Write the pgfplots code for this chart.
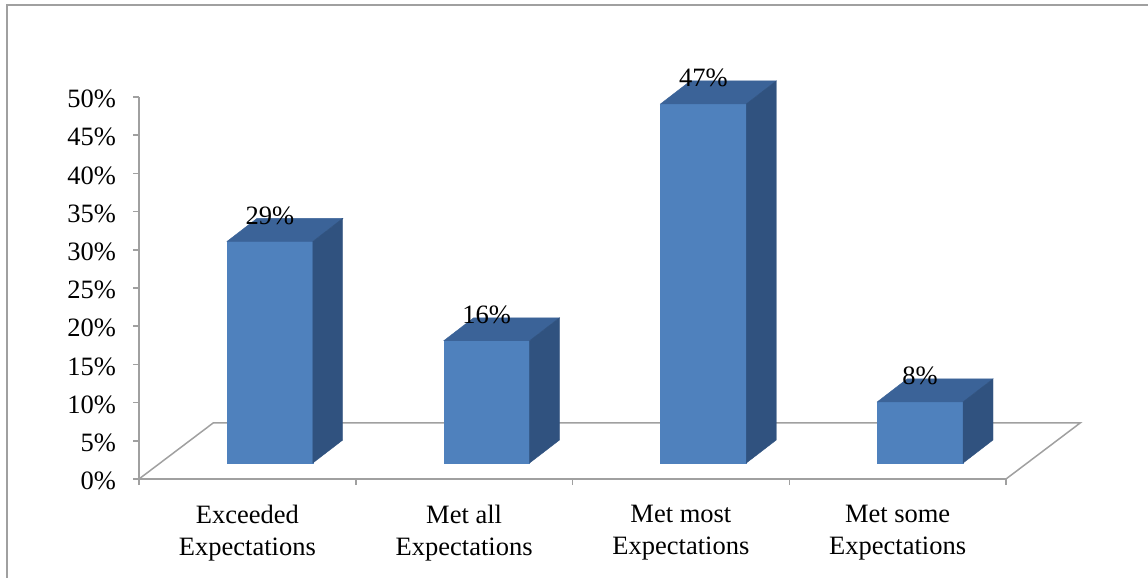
\documentclass[border=0pt]{standalone}
\usepackage{fontspec}
\setmainfont{Liberation Serif}
\usepackage{pgfplots}
\pgfplotsset{compat=1.18}
\usepackage{pgfplotstable}

\definecolor{barfront}{HTML}{4F81BD}
\definecolor{bartop}{HTML}{3B6398}
\definecolor{barside}{HTML}{30527F}
\definecolor{framegray}{HTML}{A0A0A0}

% share of responses per rating category
\pgfplotstableread{
idx val
0 29
1 16
2 47
3 8
}\ratings

\begin{document}
\fontsize{26.5}{32}\selectfont
\begin{tikzpicture}[x=1pt, y=1pt, font=\fontsize{26.5}{32}\selectfont]
\useasboundingbox (0,0) rectangle (1148,578);
% chart frame
\draw[framegray, line width=1.5pt] (7,-2) -- (7,573) -- (1150,573);
\begin{axis}[
  at={(139pt,99pt)}, anchor=south west,
  scale only axis, width=867pt, height=382pt,
  xmin=-0.5, xmax=3.5, ymin=0, ymax=50,
  clip=false,
  axis x line*=bottom, axis y line*=left,
  axis line style={framegray, line width=1.5pt},
  tick style={framegray, line width=1.5pt},
  tick align=outside, major tick length=6pt,
  ytick={0,5,...,50},
  yticklabels={0\%,5\%,10\%,15\%,20\%,25\%,30\%,35\%,40\%,45\%,50\%},
  yticklabel style={xshift=-8pt, yshift=-2pt},
  xtick={-0.5,0.5,1.5,2.5,3.5},
  xticklabels={},
  extra x ticks={0,1,2,3},
  extra x tick labels={Exceeded\\Expectations, Met all\\Expectations, Met most\\Expectations, Met some\\Expectations},
  extra x tick style={major tick length=0pt},
  xticklabel style={align=center, yshift=-17pt},
  /pgf/number format/assume math mode=true,
]
% floor of the 3-D plot area
\draw[framegray, line width=1.5pt]
  (axis cs:-0.5,0) -- (axis cs:-0.158,7.33) -- (axis cs:3.842,7.33) -- (axis cs:3.5,0);

% 3-D columns: front, top and side faces drawn around each data point
\addplot[
  scatter, only marks, mark=*, mark size=0.1pt, color=barfront,
  point meta=explicit,
  visualization depends on={\thisrow{val} \as \barval},
  scatter/@pre marker code/.code={%
    \pgfmathsetmacro\lo{2.094-\barval}%
    \pgfmathsetmacro\blo{5.104-\barval}%
    \fill[barfront] (axis direction cs:-0.094,\lo) rectangle (axis direction cs:0.302,2.094);
    \fill[bartop] (axis direction cs:-0.094,2.094) -- (axis direction cs:0.302,2.094)
      -- (axis direction cs:0.440,5.104) -- (axis direction cs:0.044,5.104) -- cycle;
    \fill[barside] (axis direction cs:0.302,2.094) -- (axis direction cs:0.440,5.104)
      -- (axis direction cs:0.440,\blo) -- (axis direction cs:0.302,\lo) -- cycle;
  },
  scatter/@post marker code/.code={},
] table[x=idx, y=val, meta=val] {\ratings};

% value labels above each column
\addplot[
  only marks, mark=none, color=barfront,
  point meta=explicit,
  nodes near coords={\pgfmathprintnumber{\pgfplotspointmeta}\%},
  every node near coord/.append style={anchor=center, xshift=22.5pt, yshift=42pt, text=black},
] table[x=idx, y=val, meta=val] {\ratings};
\end{axis}
\end{tikzpicture}
\end{document}
